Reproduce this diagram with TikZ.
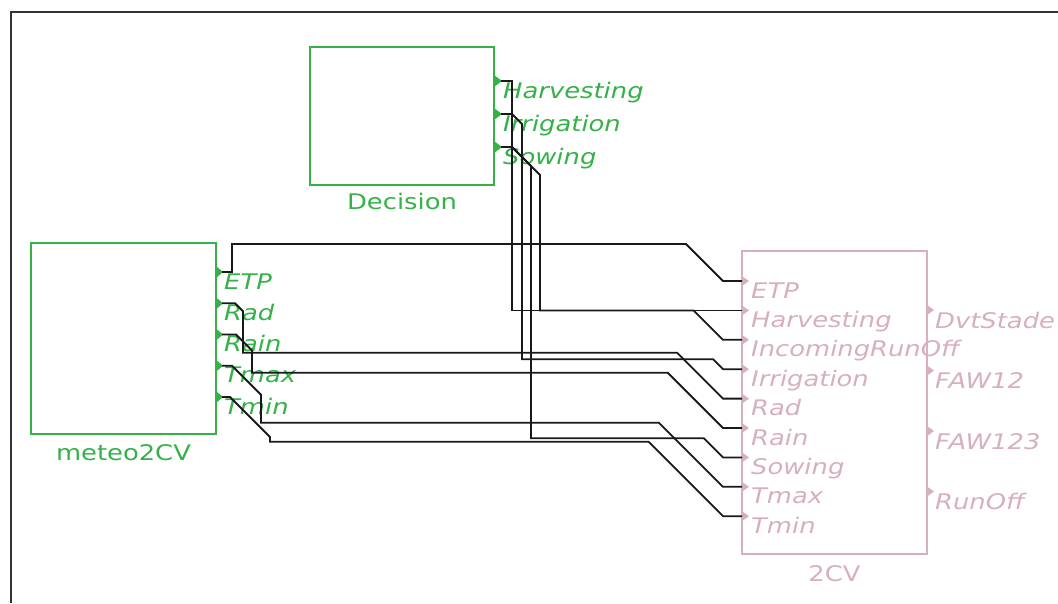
\documentclass[tikz,border=0pt]{standalone}
\usepackage{fontspec}
\usepackage{tikz}
\usepackage{xcolor}
\newfontfamily\gvlefont{DejaVu Sans}[FakeStretch=1.2]
\definecolor{modelgreen}{RGB}{52,178,72}
\definecolor{modelpink}{RGB}{214,176,187}

\begin{document}
\begin{tikzpicture}[x=1pt, y=-1pt,
    model/.style={draw, line width=1.8pt, inner sep=0pt},
    wire/.style={line width=1.8pt, black!90},
    portlabel/.style={anchor=base west, inner sep=0pt, font=\gvlefont\itshape\fontsize{21.5}{25}\selectfont},
    modelname/.style={anchor=base, inner sep=0pt, font=\gvlefont\fontsize{21.5}{25}\selectfont}]

        \useasboundingbox (0,0) rectangle (1058,603);

        % Frame
        \draw[line width=2.2pt, black!80] (11,603) -- (11,12) -- (1058,12);

        % Decision
        \node[model, modelgreen, minimum width=184, minimum height=138] (decision) at (402,116) {};
        \node[modelname, modelgreen] (decision-name) at (402,209) {Decision};
        \fill[modelgreen] (494,75) -- (502,81) -- (494,87) -- cycle;
        \fill[modelgreen] (494,108) -- (502,114) -- (494,120) -- cycle;
        \fill[modelgreen] (494,141) -- (502,147) -- (494,153) -- cycle;
        \coordinate (dec-Harvesting) at (501,81);
        \coordinate (dec-Irrigation) at (501,114);
        \coordinate (dec-Sowing) at (501,147);
        \node[portlabel, modelgreen] (dec-Harvesting-l) at (503,98) {Harvesting};
        \node[portlabel, modelgreen] (dec-Irrigation-l) at (503,131) {Irrigation};
        \node[portlabel, modelgreen] (dec-Sowing-l) at (503,164) {Sowing};

        % meteo2CV
        \node[model, modelgreen, minimum width=185, minimum height=191] (meteo) at (123.5,338.5) {};
        \node[modelname, modelgreen] (meteo-name) at (123.5,460) {meteo2CV};
        \fill[modelgreen] (216,266) -- (223,272) -- (216,278) -- cycle;
        \fill[modelgreen] (216,297.25) -- (223,303.25) -- (216,309.25) -- cycle;
        \fill[modelgreen] (216,328.5) -- (223,334.5) -- (216,340.5) -- cycle;
        \fill[modelgreen] (216,359.75) -- (223,365.75) -- (216,371.75) -- cycle;
        \fill[modelgreen] (216,391) -- (223,397) -- (216,403) -- cycle;
        \coordinate (met-ETP) at (222,272);
        \coordinate (met-Rad) at (222,303.25);
        \coordinate (met-Rain) at (222,334.5);
        \coordinate (met-Tmax) at (222,365.75);
        \coordinate (met-Tmin) at (222,397);
        \node[portlabel, modelgreen] (met-ETP-l) at (224,289) {ETP};
        \node[portlabel, modelgreen] (met-Rad-l) at (224,320.25) {Rad};
        \node[portlabel, modelgreen] (met-Rain-l) at (224,351.5) {Rain};
        \node[portlabel, modelgreen] (met-Tmax-l) at (224,382.75) {Tmax};
        \node[portlabel, modelgreen] (met-Tmin-l) at (224,414) {Tmin};

        % 2CV
        \node[model, modelpink, minimum width=185, minimum height=303] (cv) at (834.5,402.5) {};
        \node[modelname, modelpink] (cv-name) at (834.5,581) {2CV};
        \fill[modelpink] (742,276) -- (749,281) -- (742,286) -- cycle;
        \fill[modelpink] (742,305.4) -- (749,310.4) -- (742,315.4) -- cycle;
        \fill[modelpink] (742,334.8) -- (749,339.8) -- (742,344.8) -- cycle;
        \fill[modelpink] (742,364.2) -- (749,369.2) -- (742,374.2) -- cycle;
        \fill[modelpink] (742,393.6) -- (749,398.6) -- (742,403.6) -- cycle;
        \fill[modelpink] (742,423) -- (749,428) -- (742,433) -- cycle;
        \fill[modelpink] (742,452.4) -- (749,457.4) -- (742,462.4) -- cycle;
        \fill[modelpink] (742,481.8) -- (749,486.8) -- (742,491.8) -- cycle;
        \fill[modelpink] (742,511.2) -- (749,516.2) -- (742,521.2) -- cycle;
        \coordinate (cv-ETP) at (742,281);
        \coordinate (cv-Harvesting) at (742,310.4);
        \coordinate (cv-IncomingRunOff) at (742,339.8);
        \coordinate (cv-Irrigation) at (742,369.2);
        \coordinate (cv-Rad) at (742,398.6);
        \coordinate (cv-Rain) at (742,428);
        \coordinate (cv-Sowing) at (742,457.4);
        \coordinate (cv-Tmax) at (742,486.8);
        \coordinate (cv-Tmin) at (742,516.2);
        \node[portlabel, modelpink] (cv-ETP-l) at (751,298) {ETP};
        \node[portlabel, modelpink] (cv-Harvesting-l) at (751,327.4) {Harvesting};
        \node[portlabel, modelpink] (cv-IncomingRunOff-l) at (751,356.8) {IncomingRunOff};
        \node[portlabel, modelpink] (cv-Irrigation-l) at (751,386.2) {Irrigation};
        \node[portlabel, modelpink] (cv-Rad-l) at (751,415.6) {Rad};
        \node[portlabel, modelpink] (cv-Rain-l) at (751,445) {Rain};
        \node[portlabel, modelpink] (cv-Sowing-l) at (751,474.4) {Sowing};
        \node[portlabel, modelpink] (cv-Tmax-l) at (751,503.8) {Tmax};
        \node[portlabel, modelpink] (cv-Tmin-l) at (751,533.2) {Tmin};

        % 2CV outputs
        \fill[modelpink] (927,305) -- (934,310) -- (927,315) -- cycle;
        \fill[modelpink] (927,365.5) -- (934,370.5) -- (927,375.5) -- cycle;
        \fill[modelpink] (927,426) -- (934,431) -- (927,436) -- cycle;
        \fill[modelpink] (927,486.5) -- (934,491.5) -- (927,496.5) -- cycle;
        \node[portlabel, modelpink] (cv-DvtStade-l) at (935,328) {DvtStade};
        \node[portlabel, modelpink] (cv-FAW12-l) at (935,388.5) {FAW12};
        \node[portlabel, modelpink] (cv-FAW123-l) at (935,449) {FAW123};
        \node[portlabel, modelpink] (cv-RunOff-l) at (935,509.5) {RunOff};

        % Connections meteo2CV -> 2CV
        \draw[wire] (met-ETP) -- (232,272) -- (232,244) -- (686,244) -- ++(37,37) -- (cv-ETP);
        \draw[wire] (met-Rad) -- (235,303.25) -- (243,311.25) -- (243,352.7) -- (677.1,352.7) -- ++(45.9,45.9) -- (cv-Rad);
        \draw[wire] (met-Rain) -- (236,334.5) -- (252,350.5) -- (252,372.7) -- (667.7,372.7) -- ++(55.3,55.3) -- (cv-Rain);
        \draw[wire] (met-Tmax) -- (232,365.75) -- (261,394.75) -- (261,422.7) -- (658.9,422.7) -- ++(64.1,64.1) -- (cv-Tmax);
        \draw[wire] (met-Tmin) -- (230,397) -- (270,437) -- (270,441.7) -- (648.5,441.7) -- ++(74.5,74.5) -- (cv-Tmin);

        % Connections Decision -> 2CV
        \draw[wire] (dec-Harvesting) -- (512,81) -- (512,310.4) -- (cv-Harvesting);
        \draw[wire] (dec-Irrigation) -- (512,114) -- (522,124) -- (522,359.3) -- (713.1,359.3) -- ++(9.9,9.9) -- (cv-Irrigation);
        \draw[wire] (dec-Sowing) -- (512,147) -- (531,166) -- (531,438.3) -- (703.9,438.3) -- ++(19.1,19.1) -- (cv-Sowing);
        \draw[wire] (dec-Sowing) -- (512,147) -- (540,175) -- (540,310.4) -- (693.6,310.4) -- ++(29.4,29.4) -- (cv-IncomingRunOff);
\end{tikzpicture}
\end{document}
